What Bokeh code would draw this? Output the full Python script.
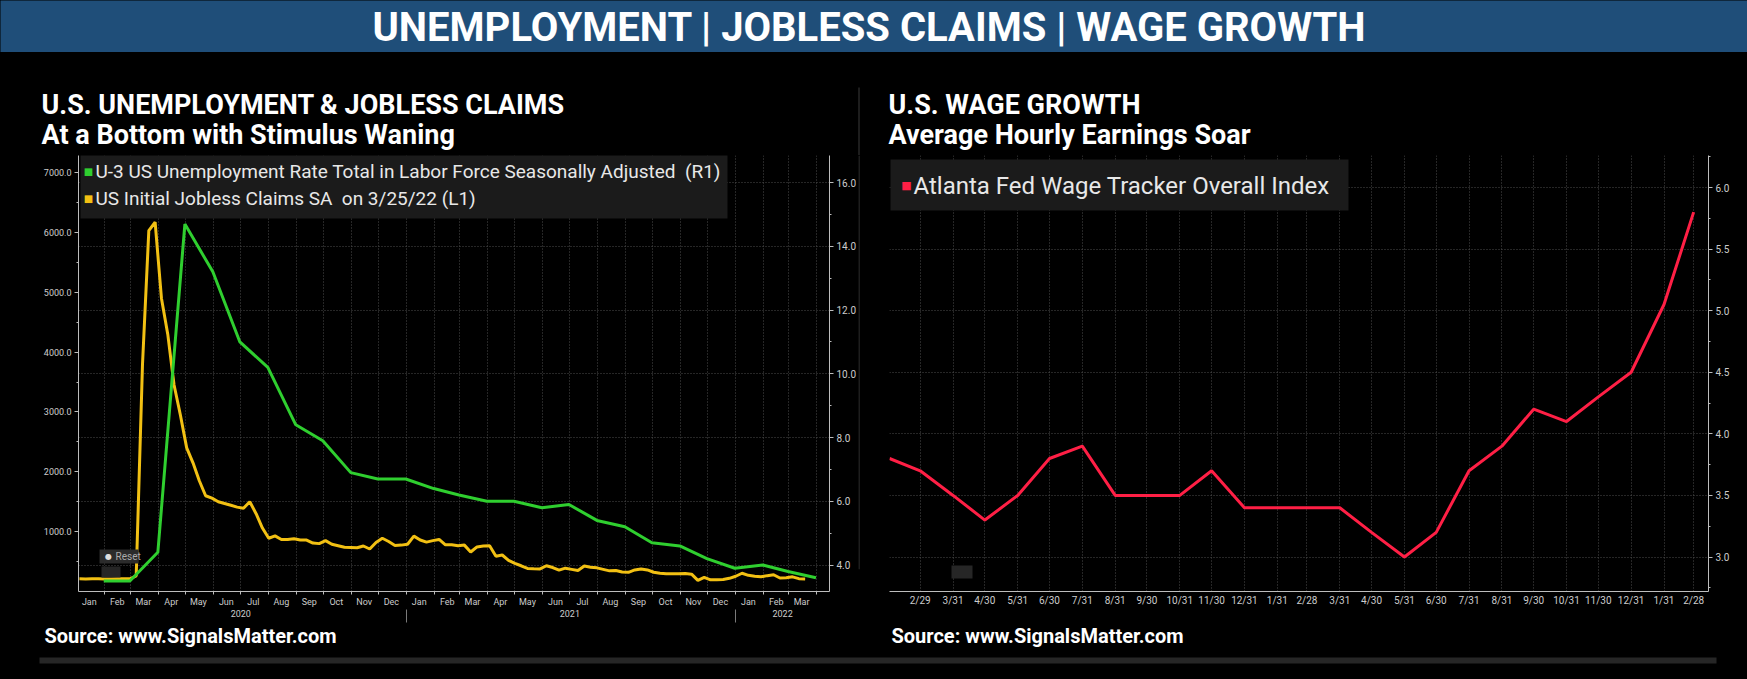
import pandas as pd
from bokeh.plotting import figure
from bokeh.models import (Range1d, LinearAxis, FixedTicker, Grid, Label,
                          BoxAnnotation, PrintfTickFormatter)
from bokeh.layouts import column, row
from bokeh.embed import file_html
from bokeh.resources import INLINE

FONT = "Roboto"

# ---------------- data ----------------
header_text = "UNEMPLOYMENT | JOBLESS CLAIMS | WAGE GROWTH"
left_title = "U.S. UNEMPLOYMENT & JOBLESS CLAIMS"
left_subtitle = "At a Bottom with Stimulus Waning"
right_title = "U.S. WAGE GROWTH"
right_subtitle = "Average Hourly Earnings Soar"
source_text = "Source: www.SignalsMatter.com"
ur_label = "U-3 US Unemployment Rate Total in Labor Force Seasonally Adjusted\u00a0 (R1)"
claims_label = "US Initial Jobless Claims SA\u00a0 on 3/25/22 (L1)"
wage_label = "Atlanta Fed Wage Tracker Overall Index"

# weekly initial jobless claims (thousands), weeks ending 2020-01-04 .. 2022-03-19
claims_first_week = "2020-01-04"
claims_k = [212, 210, 215, 212, 208, 210, 212, 214, 212, 260,
            3800, 6030, 6170, 4900, 4300, 3450, 2950, 2400, 2150, 1850,
            1600, 1560, 1500, 1470, 1440, 1410, 1390, 1500, 1300, 1060,
            890, 930, 870, 870, 880, 860, 860, 810, 800, 850,
            790, 765, 740, 735, 730, 760, 710, 820, 890, 835,
            770, 775, 790, 925, 860, 825, 850, 870, 780, 780,
            765, 775, 660, 745, 760, 765, 590, 610, 520, 470,
            430, 385, 380, 377, 430, 400, 356, 390, 370, 350,
            425, 405, 395, 370, 345, 350, 325, 320, 360, 377,
            360, 322, 305, 295, 295, 298, 300, 290, 185, 235,
            195, 195, 200, 220, 255, 305, 270, 256, 245, 265,
            280, 225, 230, 245, 215, 210]

# monthly U-3 unemployment rate (%), Jan 2020 .. Mar 2022 (plotted at month end)
ur_first_month = "2020-01-01"
ur_rate = [3.5, 3.5, 4.4, 14.7, 13.2, 11.0, 10.2, 8.4, 7.9, 6.9, 6.7, 6.7,
           6.4, 6.2, 6.0, 6.0, 5.8, 5.9, 5.4, 5.2, 4.7, 4.6, 4.2, 3.9,
           4.0, 3.8, 3.6]

# Atlanta Fed wage tracker (%), Jan 2020 .. Feb 2022 (month end)
wage_first_month = "2020-01-01"
wage = [3.8, 3.7, 3.5, 3.3, 3.5, 3.8, 3.9, 3.5, 3.5, 3.5, 3.7, 3.4,
        3.4, 3.4, 3.4, 3.2, 3.0, 3.2, 3.7, 3.9, 4.2, 4.1, 4.3, 4.5,
        5.05, 5.8]

left_ticks = [1000, 2000, 3000, 4000, 5000, 6000, 7000]
left_minor = [500, 1500, 2500, 3500, 4500, 5500, 6500]
right_ticks = [4, 6, 8, 10, 12, 14, 16]
right_minor = [5, 7, 9, 11, 13, 15]
wage_ticks = [3.0, 3.5, 4.0, 4.5, 5.0, 5.5, 6.0]
wage_minor = [2.75, 3.25, 3.75, 4.25, 4.75, 5.25, 5.75, 6.25]
year_labels = ["2020", "2021", "2022"]
year_centers = ["2020-07-01", "2021-07-01", "2022-02-22"]
year_breaks = ["2021-01-01", "2022-01-01"]

# ---------------- colours ----------------
BG = "#000000"
GREEN = "#2fcf2f"
YELLOW = "#f2c013"
RED = "#ff1f45"
GRID = "#4d4d4d"
AXIS = "#bdbdbd"
TICKTXT = "#cccccc"
BLUE = "#1f4e79"
BLACK_STYLE = {"background-color": "#000000"}


def ms(d):
    return int(pd.Timestamp(d).value // 10**6)


claims_dates = pd.date_range(claims_first_week, periods=len(claims_k), freq="7D")
ur_dates = pd.date_range(ur_first_month, periods=len(ur_rate), freq="MS") + pd.offsets.MonthEnd(0)
wage_dates = pd.date_range(wage_first_month, periods=len(wage), freq="MS") + pd.offsets.MonthEnd(0)


def base_fig(w, h, xr, yr, bl=0, br=0, bt=0, bb=0, bg=BG):
    p = figure(width=w, height=h, x_range=xr, y_range=yr, output_backend="svg",
               toolbar_location=None, tools="", x_axis_location=None, y_axis_location=None,
               min_border_left=bl, min_border_right=br, min_border_top=bt, min_border_bottom=bb,
               background_fill_color=bg, border_fill_color=bg, outline_line_color=None,
               title=None)
    for g in p.grid:
        g.visible = False
    return p


def label(p, x, y, text, size, bold=False, color="#ffffff", align="left", font=FONT,
          units="screen"):
    p.add_layout(Label(x=x, y=y, x_units=units, y_units=units, text=text,
                       text_font=font, text_font_size=f"{size}px",
                       text_font_style="bold" if bold else "normal",
                       text_color=color, text_align=align, text_baseline="middle"))


def box(p, l, r, t, b, color, units="screen"):
    p.add_layout(BoxAnnotation(left=l, right=r, top=t, bottom=b,
                               left_units=units, right_units=units,
                               top_units=units, bottom_units=units,
                               fill_color=color, fill_alpha=1, line_color=None))


def style_axis(ax, size="10px"):
    ax.axis_line_color = AXIS
    ax.major_tick_line_color = AXIS
    ax.minor_tick_line_color = AXIS
    ax.major_label_text_font = FONT
    ax.major_label_text_font_size = size
    ax.major_label_text_color = TICKTXT


# ---------------- header band (page y 0..52) ----------------
header = base_fig(1747, 52, Range1d(0, 1747), Range1d(52, 0), bg=BLUE)
label(header, 869, 27, header_text, 40, bold=True, align="center", units="data")

# ---------------- title strip (page y 52..155) ----------------
top = base_fig(1747, 103, Range1d(0, 1747), Range1d(155, 52))
label(top, 41, 104, left_title, 27, bold=True, units="data")
label(top, 41, 134, left_subtitle, 27, bold=True, units="data")
label(top, 888, 104, right_title, 27, bold=True, units="data")
label(top, 888, 134, right_subtitle, 27, bold=True, units="data")
box(top, 858, 859, 87, 155, "#3a3a3a", units="data")

# ---------------- left chart (page y 155..625, x 0..858) ----------------
pl = base_fig(858, 470, Range1d(ms("2020-01-03"), ms("2022-04-15")), Range1d(0, 7285),
              bl=78, br=25, bt=0, bb=30)
pl.extra_y_ranges = {"r": Range1d(3.17, 16.85)}

month_starts = pd.date_range("2020-02-01", "2022-04-01", freq="MS")
month_mids = pd.date_range("2020-01-01", "2022-03-01", freq="MS") + pd.Timedelta(days=14)
start_ms = [ms(d) for d in month_starts]
mid_ms = [ms(d) for d in month_mids]
month_names = [d.strftime("%b") for d in month_mids]

pl.add_layout(Grid(dimension=0, ticker=FixedTicker(ticks=start_ms), grid_line_color=GRID,
                   grid_line_dash="1 2", grid_line_width=1))
pl.add_layout(Grid(dimension=1, ticker=FixedTicker(ticks=right_ticks), y_range_name="r",
                   grid_line_color=GRID, grid_line_dash="1 2", grid_line_width=1))

pl.line(x=[ms(d) for d in claims_dates], y=claims_k, line_color=YELLOW, line_width=3)
pl.line(x=[ms(d) for d in ur_dates], y=ur_rate, y_range_name="r", line_color=GREEN, line_width=3)

ly = LinearAxis(ticker=FixedTicker(ticks=left_ticks, minor_ticks=left_minor),
                formatter=PrintfTickFormatter(format="%.1f"),
                major_tick_out=4, major_tick_in=0, minor_tick_out=2, minor_tick_in=0,
                major_label_standoff=3)
style_axis(ly, "9px")
pl.add_layout(ly, "left")

ry = LinearAxis(y_range_name="r", ticker=FixedTicker(ticks=right_ticks, minor_ticks=right_minor),
                formatter=PrintfTickFormatter(format="%.1f"),
                major_tick_out=4, major_tick_in=0, minor_tick_out=2, minor_tick_in=0,
                major_label_standoff=3)
style_axis(ry, "10px")
pl.add_layout(ry, "right")

mx = LinearAxis(ticker=FixedTicker(ticks=mid_ms, minor_ticks=start_ms),
                major_label_overrides={t: n for t, n in zip(mid_ms, month_names)},
                major_tick_out=0, major_tick_in=0, minor_tick_out=3, minor_tick_in=0,
                major_label_standoff=2)
style_axis(mx, "9px")
mx.major_tick_line_color = None
pl.add_layout(mx, "below")

yc_ms = [ms(d) for d in year_centers]
yx = LinearAxis(ticker=FixedTicker(ticks=yc_ms, minor_ticks=[ms(d) for d in year_breaks]),
                major_label_overrides={t: n for t, n in zip(yc_ms, year_labels)},
                major_tick_out=0, major_tick_in=0, minor_tick_out=13, minor_tick_in=0,
                major_label_standoff=-13)
style_axis(yx, "9px")
yx.axis_line_color = None
yx.major_tick_line_color = None
yx.minor_tick_line_color = "#7a7a7a"
pl.add_layout(yx, "below")

# legend (left)
box(pl, 2, 649, 437, 373, "#1b1b1b")
label(pl, 10, 420, "\u25A0", 10, color=GREEN, align="center", font="DejaVu Sans")
label(pl, 17, 420, ur_label, 19, color="#e8e8e8")
label(pl, 10, 393, "\u25A0", 10, color=YELLOW, align="center", font="DejaVu Sans")
label(pl, 17, 393, claims_label, 19, color="#e8e8e8")

# Reset button / chart icon
box(pl, 21, 60, 42, 28, "#2b2b2b")
label(pl, 30, 35, "\u25CF", 8, color="#dddddd", align="center", font="DejaVu Sans")
label(pl, 37, 35, "Reset", 10, color="#aaaaaa")
box(pl, 23, 42, 25, 14, "#262626")

# ---------------- divider column (x 858..869) ----------------
div = base_fig(11, 470, Range1d(0, 11), Range1d(625, 155))
box(div, 0, 1, 155, 601, "#3a3a3a", units="data")

# ---------------- right chart (x 869..1747) ----------------
pr = base_fig(878, 470, Range1d(ms("2020-01-31"), ms("2022-03-14")), Range1d(2.72, 6.26),
              bl=20, br=39, bt=0, bb=34)
wage_ms = [ms(d) for d in wage_dates]
wage_tick_labels = [""] + [f"{d.month}/{d.day}" for d in wage_dates[1:]]

pr.add_layout(Grid(dimension=0, ticker=FixedTicker(ticks=wage_ms), grid_line_color=GRID,
                   grid_line_dash="1 2", grid_line_width=1))
pr.add_layout(Grid(dimension=1, ticker=FixedTicker(ticks=wage_ticks),
                   grid_line_color=GRID, grid_line_dash="1 2", grid_line_width=1))

pr.line(x=wage_ms, y=wage, line_color=RED, line_width=3)

wx = LinearAxis(ticker=FixedTicker(ticks=wage_ms),
                major_label_overrides={t: n for t, n in zip(wage_ms, wage_tick_labels)},
                major_tick_out=0, major_tick_in=0, major_label_standoff=3)
style_axis(wx, "10px")
wx.major_tick_line_color = None
pr.add_layout(wx, "below")

wy = LinearAxis(ticker=FixedTicker(ticks=wage_ticks, minor_ticks=wage_minor),
                formatter=PrintfTickFormatter(format="%.1f"),
                major_tick_out=4, major_tick_in=0, minor_tick_out=2, minor_tick_in=0,
                major_label_standoff=3)
style_axis(wy, "10px")
pr.add_layout(wy, "right")

box(pr, 1, 459, 432, 381, "#1b1b1b")
label(pr, 17, 406, "\u25A0", 11, color=RED, align="center", font="DejaVu Sans")
label(pr, 24, 406, wage_label, 24, color="#e8e8e8")
box(pr, 62, 83, 26, 13, "#262626")

# ---------------- source strip (page y 625..679) ----------------
bot = base_fig(1747, 54, Range1d(0, 1747), Range1d(679, 625))
label(bot, 44, 635, source_text, 20, bold=True, units="data")
label(bot, 891, 635, source_text, 20, bold=True, units="data")
box(bot, 39, 1716, 657, 663, "#262626", units="data")

charts = row(pl, div, pr, styles=BLACK_STYLE)
layout = column(header, top, charts, bot, styles=BLACK_STYLE)
open("out.html", "w").write(file_html(layout, INLINE))
